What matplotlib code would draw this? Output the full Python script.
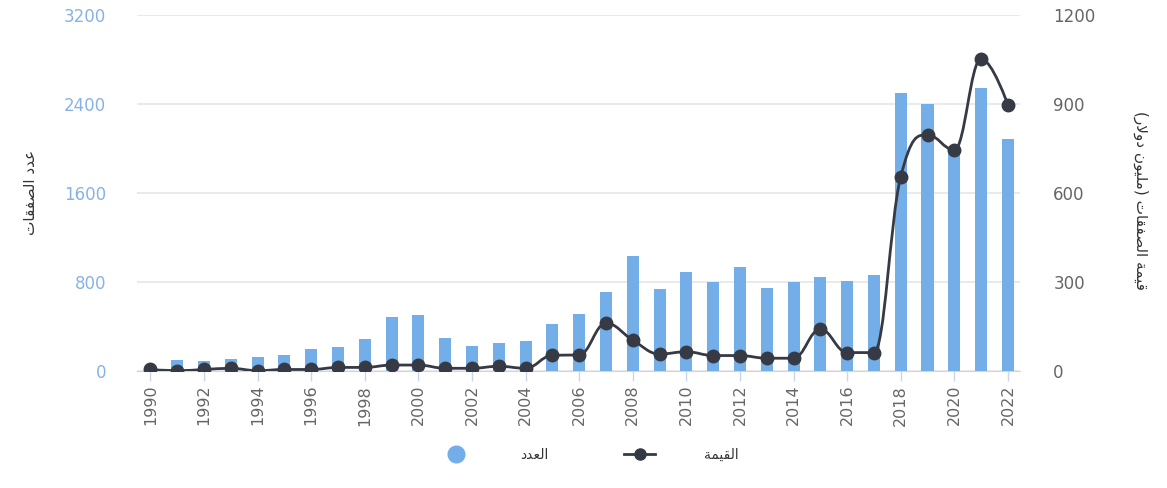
import matplotlib
matplotlib.use("Agg")
import matplotlib.pyplot as plt
from matplotlib.path import Path
from matplotlib.patches import PathPatch
from matplotlib.lines import Line2D

# deals per year and their value (million dollars)
years = list(range(1990, 2023))
deal_counts = [15, 100, 90, 108, 123, 144, 198, 213, 288, 485, 503, 300, 225, 249, 272,
               420, 510, 707, 1036, 737, 887, 797, 938, 749, 797, 848, 809, 863,
               2496, 2397, 1990, 2541, 2083]
deal_values = [5, 1, 5, 9, 1, 5, 5, 12, 12, 20, 20, 9, 9, 16, 9,
               53, 54, 161, 104, 57, 65, 52, 52, 43, 43, 141, 62, 62,
               655, 796, 745, 1052, 897]

left_ticks = [0, 800, 1600, 2400, 3200]
right_ticks = [0, 300, 600, 900, 1200]
year_ticks = list(range(1990, 2023, 2))

count_label = "عدد الصفقات"
value_label = "قيمة الصفقات (مليون دولار)"
count_name = "العدد"
value_name = "القيمة"

BAR = "#74aee8"
LINE = "#353a45"
GRID = "#e6e6e6"
AXIS = "#ccd6eb"

# contextual forms: isolated, final, initial, medial
FORMS = {
    "ا": ("\uFE8D", "\uFE8E"),
    "د": ("\uFEA9", "\uFEAA"),
    "ر": ("\uFEAD", "\uFEAE"),
    "و": ("\uFEED", "\uFEEE"),
    "ة": ("\uFE93", "\uFE94"),
    "ع": ("\uFEC9", "\uFECA", "\uFECB", "\uFECC"),
    "ل": ("\uFEDD", "\uFEDE", "\uFEDF", "\uFEE0"),
    "ص": ("\uFEB9", "\uFEBA", "\uFEBB", "\uFEBC"),
    "ف": ("\uFED1", "\uFED2", "\uFED3", "\uFED4"),
    "ق": ("\uFED5", "\uFED6", "\uFED7", "\uFED8"),
    "ت": ("\uFE95", "\uFE96", "\uFE97", "\uFE98"),
    "ي": ("\uFEF1", "\uFEF2", "\uFEF3", "\uFEF4"),
    "م": ("\uFEE1", "\uFEE2", "\uFEE3", "\uFEE4"),
    "ن": ("\uFEE5", "\uFEE6", "\uFEE7", "\uFEE8"),
}


def shape(text):
    """Join Arabic letters and lay them out right to left for matplotlib."""
    out = []
    i = 0
    while i < len(text):
        c = text[i]
        if c not in FORMS:
            out.append(c)
            i += 1
            continue
        prev = text[i - 1] if i > 0 else ""
        from_prev = prev in FORMS and len(FORMS[prev]) == 4
        if c == "ل" and i + 1 < len(text) and text[i + 1] == "ا":
            out.append("\uFEFC" if from_prev else "\uFEFB")
            i += 2
            continue
        nxt = text[i + 1] if i + 1 < len(text) else ""
        to_next = len(FORMS[c]) == 4 and nxt in FORMS
        f = FORMS[c]
        if from_prev and to_next:
            out.append(f[3])
        elif to_next:
            out.append(f[2])
        elif from_prev:
            out.append(f[1])
        else:
            out.append(f[0])
        i += 1
    mirror = {"(": ")", ")": "("}
    return "".join(mirror.get(c, c) for c in reversed(out))


def spline_path(xs, ys, smoothing=1.5):
    """Smooth curve through the points using cubic Bezier segments."""
    denom = smoothing + 1
    n = len(xs)
    left = [(x, y) for x, y in zip(xs, ys)]
    right = [(x, y) for x, y in zip(xs, ys)]
    for i in range(1, n - 1):
        x, y = xs[i], ys[i]
        lx, ly = xs[i - 1], ys[i - 1]
        nx, ny = xs[i + 1], ys[i + 1]
        lcx = (smoothing * x + lx) / denom
        lcy = (smoothing * y + ly) / denom
        rcx = (smoothing * x + nx) / denom
        rcy = (smoothing * y + ny) / denom
        corr = (rcy - lcy) * (rcx - x) / (rcx - lcx) + y - rcy
        lcy += corr
        rcy += corr
        if lcy > ly and lcy > y:
            lcy = max(ly, y)
            rcy = 2 * y - lcy
        elif lcy < ly and lcy < y:
            lcy = min(ly, y)
            rcy = 2 * y - lcy
        if rcy > ny and rcy > y:
            rcy = max(ny, y)
            lcy = 2 * y - rcy
        elif rcy < ny and rcy < y:
            rcy = min(ny, y)
            lcy = 2 * y - rcy
        left[i] = (lcx, lcy)
        right[i] = (rcx, rcy)
    verts = [(xs[0], ys[0])]
    codes = [Path.MOVETO]
    for i in range(1, n):
        verts += [right[i - 1], left[i], (xs[i], ys[i])]
        codes += [Path.CURVE4] * 3
    return Path(verts, codes)


plt.rcParams["font.family"] = ["DejaVu Sans"]

fig = plt.figure(figsize=(11.67, 4.88), dpi=100)
ax = fig.add_axes([0.117, 0.2398, 0.757, 0.7295])
ax2 = ax.twinx()

ax.bar(years, deal_counts, width=0.45, color=BAR, zorder=2)
ax.set_ylim(0, 3200)
ax.set_xlim(1989.48, 2022.45)
ax.set_yticks(left_ticks)
ax.set_xticks(year_ticks)
ax.set_xticklabels([str(y) for y in year_ticks], rotation=90)
ax.yaxis.grid(True, color=GRID, linewidth=1.2, zorder=0)
ax.set_axisbelow(True)
ax.tick_params(axis="y", length=0, pad=22, labelsize=12, labelcolor="#86b3e6")
ax.tick_params(axis="x", length=7, width=1, color=AXIS, pad=3,
               labelsize=11.5, labelcolor="#666666")
for side in ("top", "left", "right"):
    ax.spines[side].set_visible(False)
ax.spines["bottom"].set_color(AXIS)
ax.spines["bottom"].set_zorder(1)

ax2.add_patch(PathPatch(spline_path(years, deal_values), facecolor="none",
                        edgecolor=LINE, linewidth=2, zorder=3))
ax2.plot(years, deal_values, linestyle="none", marker="o", markersize=9,
         color=LINE, zorder=4)
ax2.set_ylim(0, 1200)
ax2.set_yticks(right_ticks)
ax2.tick_params(axis="y", length=0, pad=24, labelsize=12, labelcolor="#666666")
for side in ("top", "left", "right", "bottom"):
    ax2.spines[side].set_visible(False)

fig.text(0.026, 0.605, shape(count_label), rotation=90, ha="center",
         va="center", fontsize=11, color="#333333")
fig.text(0.977, 0.59, shape(value_label), rotation=270, ha="center",
         va="center", fontsize=11, color="#333333")

handles = [
    Line2D([], [], linestyle="none", marker="o", markersize=12, color=BAR),
    Line2D([], [], color=LINE, linewidth=2, marker="o", markersize=8),
]
fig.legend(handles, [shape(count_name), shape(value_name)], loc="center",
           bbox_to_anchor=(0.505, 0.068), ncol=2, frameon=False, fontsize=10,
           labelcolor="#333333", handlelength=2.2, handletextpad=3.5,
           columnspacing=5.5)

fig.savefig("out.png", dpi=100)
